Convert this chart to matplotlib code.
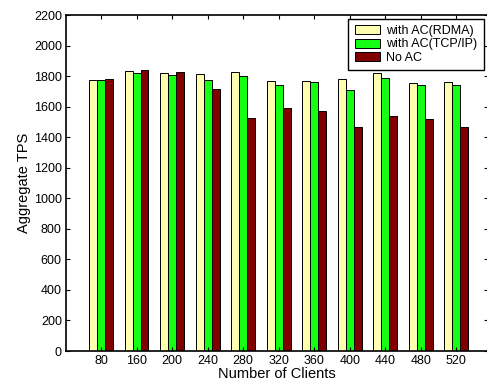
import matplotlib
matplotlib.use("Agg")
import matplotlib.pyplot as plt
import numpy as np

clients = ['80', '160', '200', '240', '280', '320', '360', '400', '440', '480', '520']
tps_rdma = [1774, 1831, 1818, 1816, 1825, 1770, 1768, 1779, 1818, 1757, 1761]
tps_tcp = [1774, 1818, 1805, 1772, 1803, 1739, 1759, 1706, 1785, 1739, 1744]
tps_noac = [1779, 1840, 1827, 1713, 1523, 1589, 1571, 1467, 1537, 1519, 1467]

plt.rcParams['font.family'] = ['Liberation Sans', 'DejaVu Sans']

fig = plt.figure(figsize=(4.87, 3.89), dpi=100)
ax = fig.add_axes([66/487, 1-351/389, (487.5-66)/487, 336/389])

x = np.arange(1, len(clients)+1)
w = 0.222
ax.bar(x-w, tps_rdma, w, color='#ffffb0', edgecolor='black', linewidth=0.7, label='with AC(RDMA)')
ax.bar(x, tps_tcp, w, color='#14ff14', edgecolor='black', linewidth=0.7, label='with AC(TCP/IP)')
ax.bar(x+w, tps_noac, w, color='#800000', edgecolor='black', linewidth=0.7, label='No AC')

ax.set_xlim(0.01, 11.88)
ax.set_ylim(0, 2200)
ax.set_xticks(x)
ax.set_xticklabels(clients)
ax.set_yticks(np.arange(0, 2201, 200))
ax.tick_params(direction='in', top=True, right=True, labelsize=9, length=3, width=0.8, pad=3)
for s in ax.spines.values():
  s.set_linewidth(1.2)
ax.set_xlabel('Number of Clients', fontsize=10.5, labelpad=0)
ax.set_ylabel('Aggregate TPS', fontsize=10.5, labelpad=2)

leg = ax.legend(loc='upper right', fontsize=9, fancybox=False, framealpha=1,
                edgecolor='black', borderaxespad=0.3, handlelength=2.0,
                handleheight=0.75, labelspacing=0.12, borderpad=0.5, handletextpad=0.55)
leg.get_frame().set_linewidth(1.0)

fig.savefig('out.png', dpi=100)
